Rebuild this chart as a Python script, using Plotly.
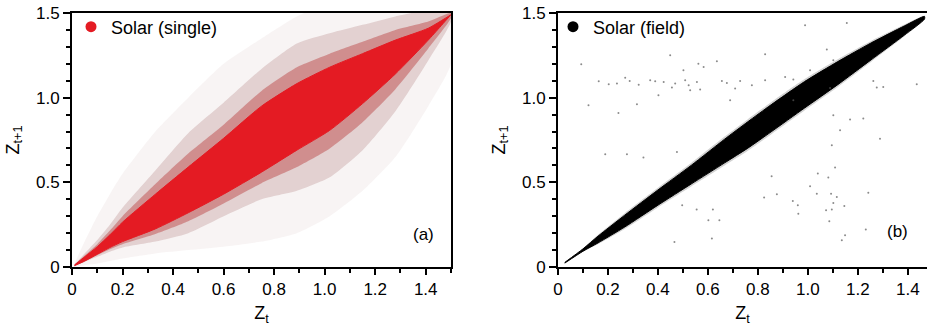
import plotly.graph_objects as go

# ---------------- data ----------------
# Panel (a): Solar (single) -- envelopes of the point cloud
a_x = [0.01, 0.05, 0.10, 0.15, 0.20, 0.33, 0.46, 0.60, 0.75, 0.89, 1.02, 1.15, 1.28, 1.41, 1.50]
a_core_hi = [0.012, 0.060, 0.120, 0.190, 0.265, 0.430, 0.590, 0.760, 0.950, 1.083, 1.180, 1.260, 1.340, 1.410, 1.490]
a_core_lo = [0.008, 0.035, 0.075, 0.115, 0.150, 0.225, 0.320, 0.430, 0.560, 0.690, 0.807, 0.965, 1.140, 1.340, 1.490]
a_near_hi = [0.013, 0.068, 0.135, 0.215, 0.300, 0.490, 0.670, 0.840, 1.040, 1.180, 1.260, 1.330, 1.400, 1.450, 1.500]
a_near_lo = [0.007, 0.033, 0.070, 0.105, 0.135, 0.195, 0.270, 0.375, 0.495, 0.590, 0.700, 0.855, 1.050, 1.290, 1.470]
a_halo_hi = [0.015, 0.080, 0.160, 0.250, 0.350, 0.570, 0.790, 0.970, 1.170, 1.320, 1.380, 1.430, 1.480, 1.520, 1.550]
a_halo_lo = [0.005, 0.030, 0.060, 0.090, 0.115, 0.150, 0.200, 0.300, 0.400, 0.450, 0.530, 0.690, 0.920, 1.220, 1.450]
a_sparse_hi = [0.020, 0.150, 0.300, 0.430, 0.550, 0.800, 1.000, 1.200, 1.350, 1.480, 1.560, 1.600, 1.600, 1.600, 1.600]
a_sparse_lo = [0.000, 0.010, 0.020, 0.035, 0.050, 0.080, 0.100, 0.120, 0.150, 0.200, 0.300, 0.450, 0.650, 0.950, 1.200]

# Panel (b): Solar (field)
b_x = [0.027, 0.10, 0.16, 0.267, 0.40, 0.533, 0.667, 0.76, 0.853, 0.987, 1.12, 1.253, 1.387, 1.467]
b_core_hi = [0.027, 0.107, 0.182, 0.306, 0.455, 0.600, 0.755, 0.858, 0.958, 1.095, 1.213, 1.323, 1.424, 1.480]
b_core_lo = [0.023, 0.093, 0.142, 0.236, 0.365, 0.490, 0.615, 0.702, 0.798, 0.939, 1.077, 1.223, 1.370, 1.464]
b_fringe_hi = [0.027, 0.109, 0.190, 0.318, 0.468, 0.614, 0.770, 0.873, 0.973, 1.110, 1.227, 1.335, 1.432, 1.483]
b_fringe_lo = [0.023, 0.091, 0.134, 0.224, 0.352, 0.476, 0.600, 0.687, 0.783, 0.924, 1.063, 1.211, 1.362, 1.461]

b_out_x = [0.093, 0.163, 0.203, 0.236, 0.269, 0.287, 0.323, 0.369, 0.389, 0.423, 0.456, 0.469, 0.509,
           0.523, 0.529, 0.556, 0.569, 0.449, 0.502, 0.562, 0.122, 0.242, 0.316, 0.402, 0.276, 0.342,
           0.476, 0.189, 0.989, 1.156, 1.076, 0.829, 0.636, 0.583, 0.656, 0.676, 0.709, 0.729, 0.776,
           0.829, 0.909, 0.942, 1.009, 1.102, 1.262, 1.276, 1.302, 1.436, 1.089, 0.942, 1.102, 1.169,
           1.222, 1.129, 1.289, 1.096, 0.689, 0.855, 0.876, 0.825, 0.940, 0.960, 0.962, 1.009, 1.036,
           1.040, 1.082, 1.093, 1.102, 1.096, 1.073, 1.116, 1.146, 1.109, 1.242, 1.232, 1.149, 1.136,
           1.086, 0.620, 0.602, 0.646, 0.616, 0.466, 0.497, 0.555]
b_out_y = [1.197, 1.097, 1.079, 1.083, 1.118, 1.099, 1.077, 1.103, 1.097, 1.093, 1.060, 1.083, 1.103,
           1.073, 1.044, 1.093, 1.048, 1.250, 1.162, 1.201, 0.955, 0.910, 0.961, 1.014, 0.666, 0.646,
           0.679, 0.666, 1.428, 1.441, 1.284, 1.256, 1.215, 1.181, 1.099, 1.087, 1.054, 1.099, 1.073,
           1.103, 1.122, 1.107, 1.162, 1.221, 1.099, 1.060, 1.063, 1.079, 1.057, 0.985, 0.896, 0.871,
           0.877, 0.807, 0.758, 0.719, 0.985, 0.536, 0.429, 0.410, 0.390, 0.364, 0.315, 0.477, 0.433,
           0.552, 0.528, 0.433, 0.378, 0.339, 0.335, 0.413, 0.360, 0.587, 0.439, 0.221, 0.187, 0.158,
           0.270, 0.339, 0.276, 0.276, 0.168, 0.148, 0.364, 0.339]

x_tickvals = [0, 0.2, 0.4, 0.6, 0.8, 1.0, 1.2, 1.4]
x_ticktext = ["0", "0.2", "0.4", "0.6", "0.8", "1.0", "1.2", "1.4"]
y_tickvals = [0, 0.5, 1.0, 1.5]
y_ticktext = ["0", "0.5", "1.0", "1.5"]

RED = "#e41b23"
FONT = "Liberation Sans, Arial, Helvetica, sans-serif"


def band(xs, hi, lo):
    return list(xs) + list(xs)[::-1], list(hi) + list(lo)[::-1]


def add_band(fig, xs, hi, lo, color, ax, ay, line=None):
    bx, by = band(xs, hi, lo)
    fig.add_trace(go.Scatter(x=bx, y=by, fill="toself", mode="lines",
                             line=line or dict(width=0, shape="spline", smoothing=0.6),
                             fillcolor=color, showlegend=False, hoverinfo="skip",
                             xaxis=ax, yaxis=ay))


fig = go.Figure()

# ---- panel (a)
add_band(fig, a_x, a_sparse_hi, a_sparse_lo, "rgba(160,100,100,0.07)", "x", "y")
add_band(fig, a_x, a_halo_hi, a_halo_lo, "rgba(165,105,105,0.25)", "x", "y")
add_band(fig, a_x, a_near_hi, a_near_lo, "rgba(190,75,75,0.50)", "x", "y")
add_band(fig, a_x, a_core_hi, a_core_lo, RED, "x", "y",
         line=dict(width=1, color=RED, shape="spline", smoothing=0.6))
fig.add_trace(go.Scatter(x=[None], y=[None], mode="markers", name="Solar (single)",
                         marker=dict(color=RED, size=11), xaxis="x", yaxis="y", legend="legend"))

# ---- panel (b)
add_band(fig, b_x, b_fringe_hi, b_fringe_lo, "rgba(0,0,0,0.18)", "x2", "y2")
add_band(fig, b_x, b_core_hi, b_core_lo, "black", "x2", "y2",
         line=dict(width=1, color="black", shape="spline", smoothing=0.6))
fig.add_trace(go.Scatter(x=b_out_x, y=b_out_y, mode="markers",
                         marker=dict(color="rgba(90,90,90,0.7)", size=2, line=dict(width=0)),
                         showlegend=False, hoverinfo="skip", xaxis="x2", yaxis="y2"))
fig.add_trace(go.Scatter(x=[None], y=[None], mode="markers", name="Solar (field)",
                         marker=dict(color="black", size=11), xaxis="x2", yaxis="y2", legend="legend2"))

W, H = 927, 327
ydom = [(H - 267) / H, (H - 13) / H]

common_x = dict(showline=True, linewidth=2, linecolor="black", ticks="outside", ticklen=6,
                tickwidth=1.5, tickcolor="black", tickvals=x_tickvals, ticktext=x_ticktext,
                showgrid=False, zeroline=False, tickfont=dict(size=17, color="black"),
                automargin=False,
                minor=dict(dtick=0.1, tick0=0, ticks="outside", ticklen=4, tickwidth=1.5,
                           tickcolor="black", showgrid=False),
                title=dict(text="Z<sub>t</sub>", font=dict(size=18, color="black"), standoff=8))
common_y = dict(showline=True, linewidth=2, linecolor="black", ticks="outside", ticklen=7,
                tickwidth=1.5, tickcolor="black", tickvals=y_tickvals, ticktext=y_ticktext,
                showgrid=False, zeroline=False, tickfont=dict(size=17, color="black"),
                automargin=False,
                minor=dict(dtick=0.1, tick0=0, ticks="outside", ticklen=4, tickwidth=1.5,
                           tickcolor="black", showgrid=False),
                range=[0, 1.5],
                title=dict(text="Z<sub>t+1</sub>", font=dict(size=18, color="black"), standoff=12))

fig.update_layout(
    width=W, height=H, margin=dict(l=0, r=0, t=0, b=0),
    paper_bgcolor="white", plot_bgcolor="white",
    font=dict(family=FONT, color="black"),
    xaxis=dict(common_x, domain=[72 / W, 451 / W], range=[0, 1.5], mirror=True, anchor="y"),
    yaxis=dict(common_y, domain=ydom, mirror=True, anchor="x"),
    xaxis2=dict(common_x, domain=[558 / W, 1.0], range=[0, 1.477], mirror=True, anchor="y2"),
    yaxis2=dict(common_y, domain=ydom, mirror=False, anchor="x2"),
    legend=dict(x=(94 - 23) / W, y=(H - 27) / H, xanchor="left", yanchor="middle",
                bgcolor="rgba(0,0,0,0)", font=dict(size=18, color="black")),
    legend2=dict(x=(576 - 23) / W, y=(H - 27) / H, xanchor="left", yanchor="middle",
                 bgcolor="rgba(0,0,0,0)", font=dict(size=18, color="black")),
    annotations=[
        dict(text="(a)", x=423 / W, y=(H - 246) / H, xref="paper", yref="paper",
             showarrow=False, font=dict(size=17, color="black")),
        dict(text="(b)", x=910 / W, y=(H - 243) / H, xref="paper", yref="paper",
             showarrow=False, font=dict(size=17, color="black")),
    ],
)

fig.write_html("out.html")
